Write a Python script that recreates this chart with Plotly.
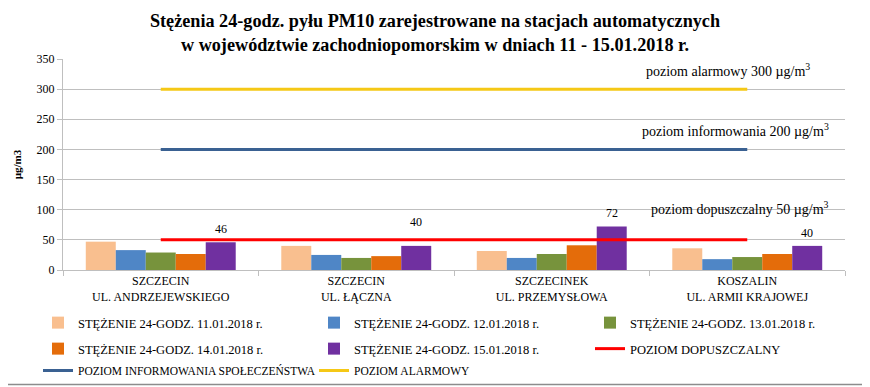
import plotly.graph_objects as go

stations = ["SZCZECIN<br>UL. ANDRZEJEWSKIEGO", "SZCZECIN<br>UL. ŁĄCZNA",
            "SZCZECINEK<br>UL. PRZEMYSŁOWA", "KOSZALIN<br>UL. ARMII KRAJOWEJ"]
series_names = ["STĘŻENIE 24-GODZ. 11.01.2018 r.", "STĘŻENIE 24-GODZ. 12.01.2018 r.",
                "STĘŻENIE 24-GODZ. 13.01.2018 r.", "STĘŻENIE 24-GODZ. 14.01.2018 r.",
                "STĘŻENIE 24-GODZ. 15.01.2018 r."]
d11 = [47, 40, 31.5, 36]
d12 = [33, 25, 20, 18]
d13 = [29, 20, 26.5, 21.5]
d14 = [26.5, 23, 41, 26.5]
d15 = [46, 40, 72, 40]
series_values = [d11, d12, d13, d14, d15]
bar_colors = ["#F9BF8F", "#4F86C6", "#77933C", "#E46C0A", "#7030A0"]

level_names = ["POZIOM DOPUSZCZALNY", "POZIOM INFORMOWANIA SPOŁECZEŃSTWA", "POZIOM ALARMOWY"]
level_values = [50, 200, 300]
level_colors = ["#FF0000", "#3A6192", "#F5C816"]
level_labels = ["poziom dopuszczalny 50 µg/m<sup>3</sup>",
                "poziom informowania 200 µg/m<sup>3</sup>",
                "poziom alarmowy 300 µg/m<sup>3</sup>"]
label_yshift = [13, 24, 14, 13]

FONT = "Liberation Serif"
OFF = 8  # browser body margin

# legend rows (3 entries per row, as in the original)
bar_legends = ["legend", "legend", "legend", "legend2", "legend2"]
level_legends = ["legend2", "legend3", "legend3"]

fig = go.Figure()
for name, vals, col, lg in zip(series_names, series_values, bar_colors, bar_legends):
    fig.add_trace(go.Bar(x=stations, y=vals, name=name, marker_color=col,
                         marker_line_width=0, legend=lg))
for name, v, col, lg in zip(level_names, level_values, level_colors, level_legends):
    fig.add_trace(go.Scatter(x=stations, y=[v] * len(stations), name=name, mode="lines",
                             line=dict(color=col, width=3), legend=lg))

annotations = []
for st, v, ys in zip(stations, d15, label_yshift):
    annotations.append(dict(x=st, y=v, xref="x", yref="y", text=str(v), showarrow=False,
                            xshift=60, yshift=ys, font=dict(size=12, color="#000", family=FONT)))
label_pos = [(740, 208), (735, 130), (728, 70)]
for txt, v, (px, py) in zip(level_labels, level_values, label_pos):
    annotations.append(dict(x=(px - 63) / 782, y=(270 - py) / 211, xref="paper", yref="paper",
                            text=txt, showarrow=False, xanchor="center", yanchor="middle",
                            font=dict(size=14, color="#000", family=FONT)))


def legend_row(top_px, size=12.5):
    return dict(orientation="h", x=(38 - 63) / 782, xanchor="left",
                y=(270 - top_px) / 211, yanchor="top",
                entrywidth=231, entrywidthmode="pixels", traceorder="normal",
                font=dict(size=size, family=FONT, color="#000"), itemwidth=30,
                bgcolor="rgba(0,0,0,0)")


fig.update_layout(
    width=870 - OFF, height=387 - OFF,
    margin=dict(l=63 - OFF, r=25, t=59 - OFF, b=117, autoexpand=False),
    paper_bgcolor="white", plot_bgcolor="white",
    font=dict(family=FONT, color="#000"),
    title=dict(text="<b>Stężenia 24-godz. pyłu PM10 zarejestrowane na stacjach automatycznych<br>"
                    "w województwie zachodniopomorskim w dniach 11 - 15.01.2018 r.</b>",
               x=(435 - OFF) / (870 - OFF), xref="container", xanchor="center",
               y=1 - (27 - OFF) / (387 - OFF), yref="container",
               yanchor="middle", font=dict(size=18.2, family=FONT, color="#000")),
    barmode="group", bargap=0.233, bargroupgap=0,
    showlegend=True,
    legend=legend_row(308),
    legend2=legend_row(334),
    legend3=legend_row(356, 11.5),
    annotations=annotations,
    shapes=[dict(type="line", xref="paper", yref="paper",
                 x0=-70 / 782, x1=830 / 782, y0=(270 - 384.5) / 211, y1=(270 - 384.5) / 211,
                 line=dict(color="#8C8C8C", width=1.5), layer="below")],
)
fig.update_yaxes(range=[0, 350], dtick=50, showgrid=True, gridcolor="#BFBFBF", gridwidth=1,
                 showline=True, linecolor="#BFBFBF", ticks="outside", ticklen=5,
                 tickcolor="#BFBFBF", tickfont=dict(size=12, family=FONT, color="#000"),
                 title=dict(text="<b>µg/m3</b>", font=dict(size=11, family=FONT, color="#000"),
                            standoff=12), zeroline=False)
fig.update_xaxes(showline=True, linecolor="#BFBFBF", ticks="outside", ticklen=5,
                 tickcolor="#BFBFBF", tickson="boundaries", showgrid=False,
                 tickfont=dict(size=12, family=FONT, color="#000"))

fig.write_html("out.html")
